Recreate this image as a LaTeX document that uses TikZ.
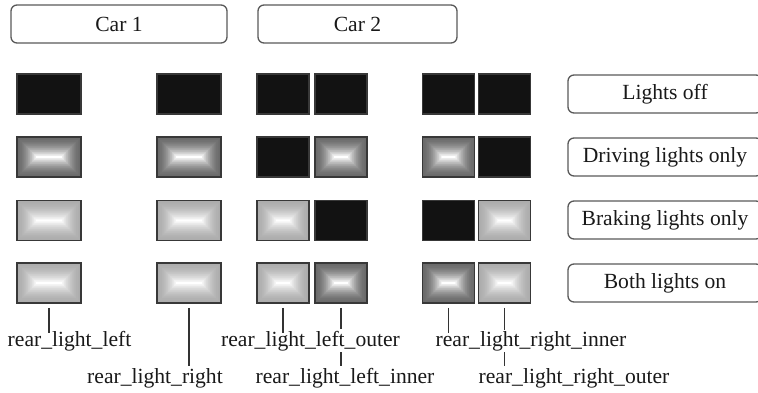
\documentclass[tikz,border=0pt]{standalone}
\usepackage{fontspec}
\setmainfont{Liberation Serif}
\usetikzlibrary{backgrounds}
\begin{document}
\begin{tikzpicture}[x=1pt,y=-1pt,
  font=\fontsize{21.6}{25}\selectfont,
  lampbox/.style={draw=black!78, line width=1.5pt, minimum height=40pt, inner sep=0pt},
  widelamp/.style={minimum width=64pt},
  narrowlamp/.style={minimum width=52pt},
  lampoff/.style={lampbox, fill=black!93},
  lamplit/.style={lampbox, fill=#1, path picture={
     \foreach \i in {1,...,30}{
       \pgfmathsetmacro\d{\i*20/30}
       \pgfmathtruncatemacro\p{min(100,100*(\i/29)^1.8)}
       \fill[white!\p!#1] ([shift={(\d pt,\d pt)}]path picture bounding box.south west) rectangle ([shift={(-\d pt,-\d pt)}]path picture bounding box.north east);
     }}},
  lampdark/.style={lamplit=black!58},
  lamplight/.style={lamplit=black!32},
  carbox/.style={draw=black!65, line width=1.3pt, rounded corners=6pt, minimum height=38pt, text=black!90},
  statebox/.style={draw=black!65, line width=1.3pt, rounded corners=6pt, minimum height=38pt, minimum width=194pt, text=black!90},
  lbl/.style={anchor=base, inner sep=1.5pt, fill=white, text=black!90},
  conn/.style={draw=black!80, line width=1.3pt}
]
\clip (0,0) rectangle (758,392);

% header boxes
\node[carbox, minimum width=216pt] (car1) at (119,24) {Car 1};
\node[carbox, minimum width=199pt] (car2) at (357.5,24) {Car 2};

% state boxes
\node[statebox] (s1) at (665,94) {Lights off};
\node[statebox] (s2) at (665,157) {Driving lights only};
\node[statebox] (s3) at (665,220) {Braking lights only};
\node[statebox] (s4) at (665,283) {Both lights on};

% row 1: lights off
\node[lampoff, widelamp] (a1) at (49,94) {};
\node[lampoff, widelamp] (b1) at (189,94) {};
\node[lampoff, narrowlamp] (c1) at (283,94) {};
\node[lampoff, narrowlamp] (d1) at (341,94) {};
\node[lampoff, narrowlamp] (e1) at (448.5,94) {};
\node[lampoff, narrowlamp] (f1) at (504.5,94) {};

% row 2: driving lights only
\node[lampdark, widelamp] (a2) at (49,157) {};
\node[lampdark, widelamp] (b2) at (189,157) {};
\node[lampoff, narrowlamp] (c2) at (283,157) {};
\node[lampdark, narrowlamp] (d2) at (341,157) {};
\node[lampdark, narrowlamp] (e2) at (448.5,157) {};
\node[lampoff, narrowlamp] (f2) at (504.5,157) {};

% row 3: braking lights only
\node[lamplight, widelamp] (a3) at (49,220.5) {};
\node[lamplight, widelamp] (b3) at (189,220.5) {};
\node[lamplight, narrowlamp] (c3) at (283,220.5) {};
\node[lampoff, narrowlamp] (d3) at (341,220.5) {};
\node[lampoff, narrowlamp] (e3) at (448.5,220.5) {};
\node[lamplight, narrowlamp] (f3) at (504.5,220.5) {};

% row 4: both lights on
\node[lamplight, widelamp] (a4) at (49,283) {};
\node[lamplight, widelamp] (b4) at (189,283) {};
\node[lamplight, narrowlamp] (c4) at (283,283) {};
\node[lampdark, narrowlamp] (d4) at (341,283) {};
\node[lampdark, narrowlamp] (e4) at (448.5,283) {};
\node[lamplight, narrowlamp] (f4) at (504.5,283) {};

% labels
\node[lbl] (L1) at (69.5,346) {rear\_light\_left};
\node[lbl] (L2) at (155,383) {rear\_light\_right};
\node[lbl] (L3) at (310.5,346) {rear\_light\_left\_outer};
\node[lbl] (L4) at (345,383) {rear\_light\_left\_inner};
\node[lbl] (L5) at (531,346) {rear\_light\_right\_inner};
\node[lbl] (L6) at (574,383) {rear\_light\_right\_outer};

% connectors to the upper labels (on top)
\draw[conn] ([yshift=-4pt]a4.south) -- ([yshift=-4pt]a4.south |- L1.north);
\draw[conn] ([yshift=-4pt]c4.south) -- ([yshift=-4pt]c4.south |- L3.north);
\draw[conn] ([yshift=-4pt]e4.south) -- ([yshift=-4pt]e4.south |- L5.north);

% connectors to the lower labels (behind the upper labels)
\begin{pgfonlayer}{background}
\draw[conn] ([yshift=-4pt]b4.south) -- (b4.south |- L2.north);
\draw[conn] ([yshift=-4pt]d4.south) -- (d4.south |- L4.north);
\draw[conn] ([yshift=-4pt]f4.south) -- (f4.south |- L6.north);
\end{pgfonlayer}
\end{tikzpicture}
\end{document}
